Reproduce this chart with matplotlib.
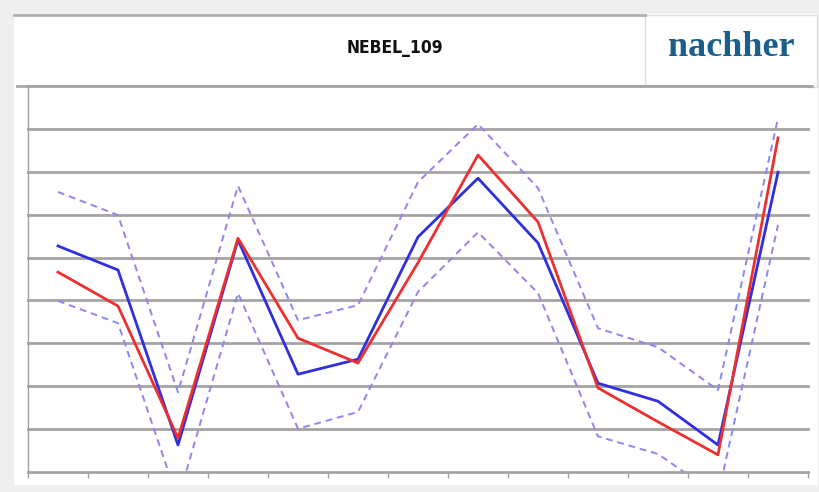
import matplotlib
matplotlib.use("Agg")
import matplotlib.pyplot as plt
from matplotlib.patches import Rectangle
from matplotlib.lines import Line2D
import numpy as np

# 13 measurement points, values in grid units (one unit per gridline)
points = np.arange(13)
mean_vals = [5.27, 4.71, 0.63, 5.41, 2.28, 2.63, 5.48, 6.85, 5.34, 2.07, 1.65, 0.63, 6.99]
after_vals = [4.66, 3.87, 0.79, 5.45, 3.12, 2.54, 4.88, 7.39, 5.83, 1.96, 1.17, 0.40, 7.79]
upper_vals = [6.53, 5.99, 1.86, 6.67, 3.54, 3.89, 6.76, 8.11, 6.62, 3.35, 2.91, 1.91, 8.25]
lower_vals = [3.99, 3.47, -0.65, 4.17, 1.01, 1.40, 4.20, 5.59, 4.17, 0.83, 0.42, -0.55, 5.76]

title = "NEBEL_109"
badge = "nachher"

W, H = 820, 492
fig = plt.figure(figsize=(W / 100, H / 100), dpi=100)
fig.patch.set_facecolor("#efefef")

# frame drawn in pixel space
bg = fig.add_axes([0, 0, 1, 1], zorder=0)
bg.set_xlim(0, W)
bg.set_ylim(H, 0)
bg.axis("off")
bg.add_patch(Rectangle((14, 14), 804, 471, facecolor="white", edgecolor="none"))
bg.add_line(Line2D([14, 645], [15, 15], color="#b0b0b0", lw=2))
bg.add_patch(Rectangle((645, 15), 172, 72, facecolor="white", edgecolor="#dddddd", lw=1))
bg.add_line(Line2D([17, 812], [86, 86], color="#a8a8a8", lw=2))
bg.text(395, 48, title, ha="center", va="center", fontsize=12.5, fontweight="bold",
        fontstretch="condensed", family=["DejaVu Sans"], color="#111111")
bg.text(731, 48, badge, ha="center", va="center", fontsize=26, fontweight="bold",
        family=["Liberation Serif", "DejaVu Serif"], color="#1b5e8c")

ax = fig.add_axes([28 / W, (H - 472) / H, (808 - 28) / W, (472 - 86) / H], zorder=1)
ax.set_facecolor("white")
ax.set_xlim(-0.5, 12.5)
ax.set_ylim(0, 9)

for y in range(1, 10):
    ax.axhline(y, color="#a4a4a4", lw=2, zorder=1, clip_on=False)

ax.plot(points, upper_vals, color="#8888f0", lw=1.4, ls=(0, (3.5, 2.5)), zorder=2)
ax.plot(points, lower_vals, color="#8888f0", lw=1.4, ls=(0, (3.5, 2.5)), zorder=2)
ax.plot(points, mean_vals, color="#2f2fe0", lw=2, zorder=3)
ax.plot(points, after_vals, color="#ee2f2f", lw=2, zorder=4)

for side in ["top", "right"]:
    ax.spines[side].set_visible(False)
ax.spines["left"].set_color("#a0a0a0")
ax.spines["left"].set_linewidth(1)
ax.spines["bottom"].set_color("#a4a4a4")
ax.spines["bottom"].set_linewidth(2)

ax.set_yticks([])
ax.set_xticks(np.arange(-0.5, 13, 1))
ax.tick_params(axis="x", length=4, width=1, color="#a0a0a0", labelbottom=False)

fig.savefig("out.png", dpi=100, facecolor=fig.get_facecolor())
